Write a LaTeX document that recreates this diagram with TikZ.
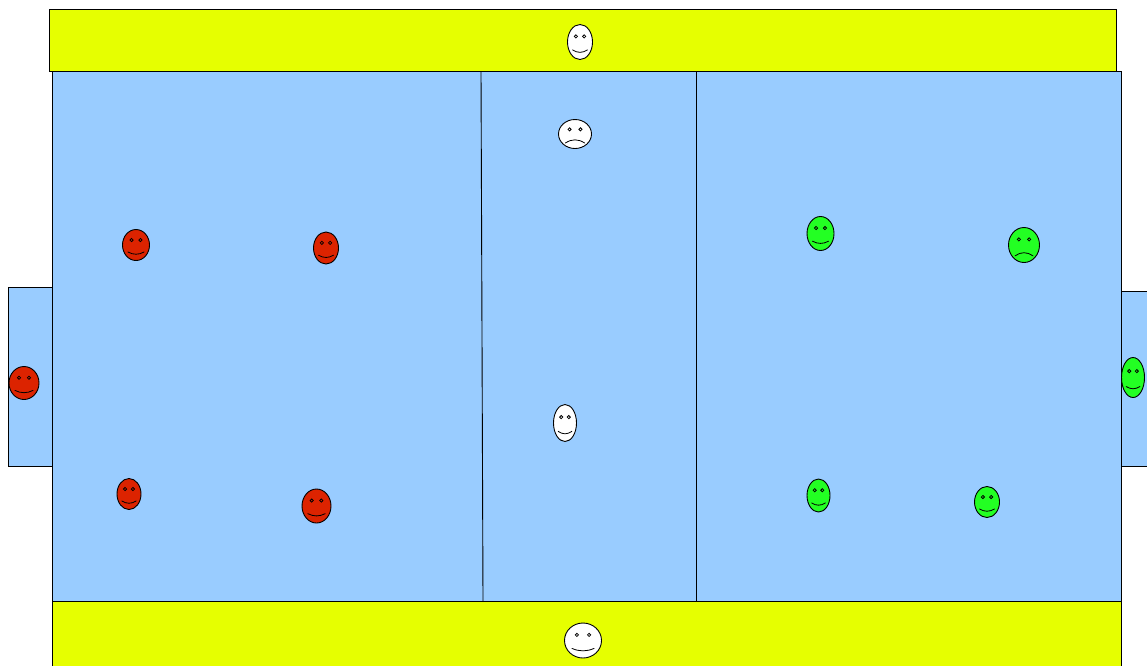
\documentclass[tikz,border=0pt]{standalone}
\definecolor{pitchblue}{HTML}{99CCFF}
\definecolor{bandyellow}{HTML}{E6FF00}
\definecolor{teamred}{HTML}{DC2300}
\definecolor{teamgreen}{HTML}{23FF23}
\tikzset{
  zone/.style={draw=black,line width=0.9pt},
  bluezone/.style={zone,fill=pitchblue},
  yellowzone/.style={zone,fill=bandyellow},
  head/.style={draw=black,line width=0.9pt},
  eye/.style={draw=black,line width=0.8pt},
  mouth/.style={draw=black,line width=0.8pt,line cap=round}
}
% cx, cy, rx, ry, colour, mouth bend (positive = smile, negative = frown)
\newcommand{\facedraw}[6]{%
  \begin{scope}[shift={(#1,#2)}]
    \draw[head,fill=#5] (0,0) ellipse ({#3} and {#4});
    \draw[eye] ({-0.33*#3},{-0.32*#4}) circle (1.6);
    \draw[eye] ({0.33*#3},{-0.32*#4}) circle (1.6);
    \ifdim #6pt>0pt
      \draw[mouth] ({-0.6*#3},{0.45*#4}) .. controls ({-0.2*#3},{0.45*#4+#6}) and ({0.2*#3},{0.45*#4+#6}) .. ({0.6*#3},{0.45*#4});
    \else
      \draw[mouth] ({-0.58*#3},{0.62*#4}) .. controls ({-0.2*#3},{0.62*#4+#6}) and ({0.2*#3},{0.62*#4+#6}) .. ({0.58*#3},{0.62*#4});
    \fi
  \end{scope}}
\begin{document}
\begin{tikzpicture}[x=1pt,y=-1pt]
  \useasboundingbox (0,0) rectangle (1147,665);
  \fill[white] (0,0) rectangle (1147,665);
  % zones
  \draw[yellowzone] (49.8,9.6) rectangle (1116.5,71.6);
  \draw[bluezone] (52.3,71.6) rectangle (1121,601.2);
  \draw[bluezone] (8.6,287.6) rectangle (52.3,466.6);
  \draw[bluezone] (1121,291.6) rectangle (1150,466.6);
  \draw[yellowzone] (52.3,601.2) rectangle (1121,670);
  \draw[zone] (481,71.6) -- (483,601.2);
  \draw[zone] (696.5,71.6) -- (696.5,601.2);
  % white faces
  \facedraw{580}{42}{12.5}{17.5}{white}{3.3}
  \facedraw{575}{134}{16.5}{14.5}{white}{-4.2}
  \facedraw{565}{423}{11.5}{18.5}{white}{3.3}
  \facedraw{583}{640.5}{18.5}{17.5}{white}{3.3}
  % red faces
  \facedraw{136}{245}{13.5}{15.5}{teamred}{3}
  \facedraw{326}{248}{12.5}{16}{teamred}{3}
  \facedraw{24}{383}{15}{16.5}{teamred}{3}
  \facedraw{129}{494}{12}{15.5}{teamred}{3}
  \facedraw{316.5}{506}{14.5}{17}{teamred}{3}
  % green faces
  \facedraw{820.5}{233.5}{13.5}{17}{teamgreen}{3}
  \facedraw{1024}{245}{15.5}{17.5}{teamgreen}{-4.2}
  \facedraw{1133}{377.5}{11.5}{20}{teamgreen}{3}
  \facedraw{818.5}{495.5}{11.5}{16.5}{teamgreen}{3}
  \facedraw{987}{502}{12.5}{15.5}{teamgreen}{3}
\end{tikzpicture}
\end{document}
